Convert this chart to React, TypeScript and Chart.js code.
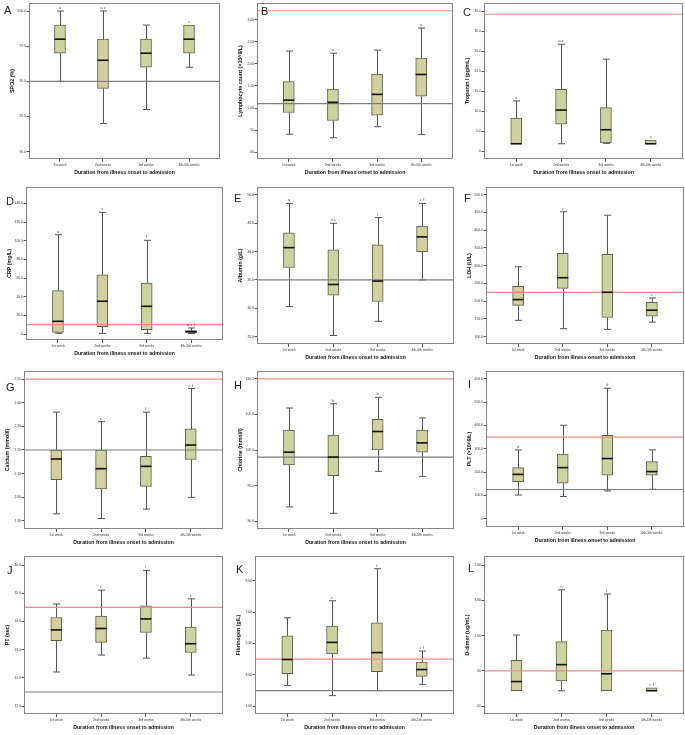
import React, { useEffect, useRef } from "react";
import { Chart, registerables } from "chart.js";

Chart.register(...registerables);

// ---- categories ----
const weeks = ["1st week", "2nd weeks", "3rd weeks", "4th-5th weeks"];

// ---- box statistics per category: [lower whisker, Q1, median, Q3, upper whisker] ----
const spo2 = [[95, 97, 98, 99, 100], [92, 94.5, 96.5, 98, 100], [93, 96, 97, 98, 99], [96, 97, 98, 99, 99]];
const lymphocyte = [[0.41, 0.9, 1.18, 1.6, 2.29], [0.33, 0.72, 1.13, 1.43, 2.24], [0.58, 0.84, 1.31, 1.77, 2.31], [0.4, 1.27, 1.76, 2.13, 2.81]];
const troponin = [[1.9, 1.9, 1.9, 8.3, 12.6], [1.9, 6.8, 10.3, 15.5, 26.7], [2.0, 2.1, 5.4, 10.9, 23.0], [1.9, 1.9, 1.9, 2.8, 2.8]];
const crp = [[0.7, 1.8, 13.6, 46.5, 106.4], [0.7, 7.9, 35.1, 63.4, 130.4], [0.7, 4.7, 29.7, 54.5, 100.4], [0.5, 1.1, 2.5, 3.6, 6.5]];
const albumin = [[30.3, 37.2, 40.7, 43.3, 48.5], [25.2, 32.3, 34.2, 40.3, 45.0], [27.7, 31.2, 34.8, 41.2, 46.0], [35.0, 40.0, 42.6, 44.5, 48.5]];
const ldh = [[146, 188, 204.5, 242, 297], [122.6, 236, 266, 335, 452], [120.6, 154, 225, 332, 442], [141, 158, 174.6, 197, 209]];
const calcium = [[1.93, 2.075, 2.162, 2.2, 2.36], [1.91, 2.035, 2.121, 2.2, 2.32], [1.95, 2.046, 2.131, 2.173, 2.36], [2.0, 2.16, 2.221, 2.289, 2.46]];
const chlorine = [[92.0, 97.9, 99.7, 102.8, 105.9], [91.1, 96.4, 99.0, 102.1, 106.5], [97.0, 100.0, 102.6, 104.3, 107.4], [96.3, 99.7, 101.0, 102.8, 104.5]];
const plt = [[101.6, 159, 190, 219, 295], [95, 152, 219, 277, 401], [119, 186.5, 258, 358, 560], [126, 186.5, 202, 245, 295]];
const pt = [[12.21, 13.32, 13.7, 14.14, 14.62], [12.81, 13.26, 13.75, 14.19, 15.11], [12.7, 13.61, 14.09, 14.55, 15.81], [12.1, 12.9, 13.21, 13.8, 14.8]];
const fibrinogen = [[2.32, 3.08, 3.98, 5.49, 6.64], [1.68, 4.33, 5.07, 6.11, 7.72], [2.0, 3.21, 4.42, 6.32, 9.76], [2.4, 2.91, 3.34, 3.82, 4.52]];
const dDimer = [[0.22, 0.22, 0.35, 0.65, 1.01], [0.22, 0.36, 0.59, 0.915, 1.65], [0.22, 0.22, 0.46, 1.08, 1.59], [0.22, 0.22, 0.22, 0.26, 0.26]];

// ---- y tick values ----
const spo2Ticks = [90, 92.5, 95, 97.5, 100];
const lymphocyteTicks = [0, 0.5, 1, 1.5, 2, 2.5, 3];
const troponinTicks = [0, 5, 10, 15, 20, 25, 30, 35];
const crpTicks = [0, 20, 40, 60, 80, 100, 120, 140];
const albuminTicks = [25, 30, 35, 40, 45, 50];
const ldhTicks = [100, 150, 200, 250, 300, 350, 400, 450, 500];
const calciumTicks = [1.9, 2.0, 2.1, 2.2, 2.3, 2.4, 2.5];
const chlorineTicks = [90, 95, 100, 105, 110];
const pltTicks = [0, 100, 200, 300, 400, 500, 600];
const ptTicks = [11, 12, 13, 14, 15, 16];
const fibrinogenTicks = [1, 3, 5, 7, 9];
const dDimerTicks = [0, 0.5, 1, 1.5, 2];

// ---- significance letters above each box ----
const spo2Notes = ["a", "a c", "", "c"];
const lymphocyteNotes = ["", "a", "", "a"];
const troponinNotes = ["a", "a c", "", "a"];
const crpNotes = ["a", "c", "f", "a c f"];
const albuminNotes = ["a", "a c", "f", "c f"];
const ldhNotes = ["", "c", "", "c"];
const calciumNotes = ["", "c", "f", "c f"];
const chlorineNotes = ["", "b", "b", ""];
const pltNotes = ["d", "", "d", ""];
const ptNotes = ["", "c", "f", "f"];
const fibrinogenNotes = ["", "c", "f", "c f"];
const dDimerNotes = ["", "c", "f", "c f"];

// ---- reference lines: [red (upper limit), grey (lower limit)] ----
const spo2Limits = [null, 95];
const lymphocyteLimits = [3.2, 1.1];
const troponinLimits = [34.2, null];
const crpLimits = [10, null];
const albuminLimits = [null, 35];
const ldhLimits = [225, null];
const calciumLimits = [2.5, 2.2];
const chlorineLimits = [110, 99];
const pltLimits = [350, 125];
const ptLimits = [14.5, 11.5];
const fibrinogenLimits = [4, 2];
const dDimerLimits = [0.5, null];

const FONT = 'Arial, "Liberation Sans", Helvetica, sans-serif';
const BOX_FILL = "#d2d09e";
const BOX_EDGE = "#5e5e4a";

const fmt = (v: number, d: number) => {
  const s = Number(v).toFixed(d);
  if (s.startsWith("0.")) return s.slice(1);
  return s;
};

const panels = [
  { letter: "A", title: "SPO2 (%)", stats: spo2, ticks: spo2Ticks, dec: 1, min: 89.48, max: 100.57, notes: spo2Notes, lim: spo2Limits, L: 29, R: 220, T: 3, B: 159, lx: 4, ly: 6 },
  { letter: "B", title: "Lymphocyte count (×10^9/L)", stats: lymphocyte, ticks: lymphocyteTicks, dec: 2, min: -0.15, max: 3.375, notes: lymphocyteNotes, lim: lymphocyteLimits, L: 257, R: 453, T: 3, B: 159, lx: 261, ly: 7 },
  { letter: "C", title: "Troponin I (pg/mL)", stats: troponin, ticks: troponinTicks, dec: 1, min: -1.9, max: 37, notes: troponinNotes, lim: troponinLimits, L: 484, R: 683, T: 3, B: 159, lx: 463, ly: 8 },
  { letter: "D", title: "CRP (mg/L)", stats: crp, ticks: crpTicks, dec: 1, min: -6.4, max: 157.5, notes: crpNotes, lim: crpLimits, L: 26, R: 223, T: 187, B: 340, lx: 6, ly: 197 },
  { letter: "E", title: "Albumin (g/L)", stats: albumin, ticks: albuminTicks, dec: 1, min: 23.7, max: 51.4, notes: albuminNotes, lim: albuminLimits, L: 257, R: 454, T: 187, B: 344, lx: 234, ly: 194 },
  { letter: "F", title: "LDH (U/L)", stats: ldh, ticks: ldhTicks, dec: 1, min: 79.4, max: 521.5, notes: ldhNotes, lim: ldhLimits, L: 486, R: 684, T: 187, B: 344, lx: 464, ly: 194 },
  { letter: "G", title: "Calcium (mmol/l)", stats: calcium, ticks: calciumTicks, dec: 2, min: 1.866, max: 2.534, notes: calciumNotes, lim: calciumLimits, L: 24, R: 223, T: 371, B: 529, lx: 6, ly: 383 },
  { letter: "H", title: "Chlorine (mmol/l)", stats: chlorine, ticks: chlorineTicks, dec: 1, min: 88.9, max: 111.1, notes: chlorineNotes, lim: chlorineLimits, L: 257, R: 454, T: 371, B: 529, lx: 234, ly: 381 },
  { letter: "I", title: "PLT (×10^9/L)", stats: plt, ticks: pltTicks, dec: 1, min: -36, max: 634, notes: pltNotes, lim: pltLimits, L: 486, R: 684, T: 371, B: 527, lx: 468, ly: 380 },
  { letter: "J", title: "PT (sec)", stats: pt, ticks: ptTicks, dec: 1, min: 10.72, max: 16.32, notes: ptNotes, lim: ptLimits, L: 24, R: 223, T: 556, B: 714, lx: 7, ly: 566 },
  { letter: "K", title: "Fibrinogen (g/L)", stats: fibrinogen, ticks: fibrinogenTicks, dec: 2, min: 0.51, max: 10.57, notes: fibrinogenNotes, lim: fibrinogenLimits, L: 255, R: 454, T: 556, B: 714, lx: 236, ly: 565 },
  { letter: "L", title: "D-dimer (ug/mL)", stats: dDimer, ticks: dDimerTicks, dec: 2, min: -0.11, max: 2.13, notes: dDimerNotes, lim: dDimerLimits, L: 484, R: 684, T: 556, B: 714, lx: 468, ly: 564 },
];

function extras(p: any) {
  return {
    id: "boxExtras" + p.letter,
    afterDatasetsDraw(chart: any) {
      const { ctx, chartArea: a, scales } = chart;
      const x = scales.x;
      const y = scales.y;
      const meta = chart.getDatasetMeta(0);
      ctx.save();
      ctx.beginPath();
      ctx.rect(a.left, a.top, a.right - a.left, a.bottom - a.top);
      ctx.clip();
      // whiskers
      ctx.strokeStyle = "#555";
      ctx.lineWidth = 1;
      p.stats.forEach((s: number[], i: number) => {
        const xc = Math.round(x.getPixelForValue(i)) + 0.5;
        const [lo, q1, , q3, hi] = s;
        const cap = 3.5;
        if (hi > q3) {
          const yh = y.getPixelForValue(hi);
          ctx.beginPath();
          ctx.moveTo(xc, y.getPixelForValue(q3));
          ctx.lineTo(xc, yh);
          ctx.moveTo(xc - cap, yh);
          ctx.lineTo(xc + cap, yh);
          ctx.stroke();
        }
        if (lo < q1) {
          const yl = y.getPixelForValue(lo);
          ctx.beginPath();
          ctx.moveTo(xc, y.getPixelForValue(q1));
          ctx.lineTo(xc, yl);
          ctx.moveTo(xc - cap, yl);
          ctx.lineTo(xc + cap, yl);
          ctx.stroke();
        }
      });
      // reference lines
      const [red, grey] = p.lim;
      if (red !== null) {
        ctx.strokeStyle = "#f08a8a";
        ctx.lineWidth = 1.2;
        const yy = y.getPixelForValue(red);
        ctx.beginPath();
        ctx.moveTo(a.left, yy);
        ctx.lineTo(a.right, yy);
        ctx.stroke();
      }
      if (grey !== null) {
        ctx.strokeStyle = "#7d7d7d";
        ctx.lineWidth = 1.2;
        const yy = y.getPixelForValue(grey);
        ctx.beginPath();
        ctx.moveTo(a.left, yy);
        ctx.lineTo(a.right, yy);
        ctx.stroke();
      }
      // medians
      ctx.strokeStyle = "#111";
      ctx.lineWidth = 1.6;
      p.stats.forEach((s: number[], i: number) => {
        const bar = meta.data[i];
        const xc = x.getPixelForValue(i);
        const half = bar.width / 2;
        const ym = y.getPixelForValue(s[2]);
        ctx.beginPath();
        ctx.moveTo(xc - half, ym);
        ctx.lineTo(xc + half, ym);
        ctx.stroke();
      });
      // letters
      ctx.fillStyle = "#555";
      ctx.font = `4.3px ${FONT}`;
      ctx.textAlign = "center";
      ctx.textBaseline = "alphabetic";
      p.stats.forEach((s: number[], i: number) => {
        const note = p.notes[i];
        if (!note) return;
        const top = Math.max(s[3], s[4]);
        ctx.fillText(note, x.getPixelForValue(i), y.getPixelForValue(top) - 2);
      });
      ctx.restore();
      // frame
      ctx.save();
      ctx.strokeStyle = "#858585";
      ctx.lineWidth = 1;
      ctx.strokeRect(Math.round(a.left) + 0.5, Math.round(a.top) + 0.5, Math.round(a.right - a.left) - 1, Math.round(a.bottom - a.top) - 1);
      ctx.restore();
    },
  };
}

function BoxPanel({ p }: { p: any }) {
  const ref = useRef<HTMLCanvasElement | null>(null);
  const w = p.R - p.L + 30;
  const h = p.B - p.T + 25;
  useEffect(() => {
    if (!ref.current) return;
    const chart = new Chart(ref.current, {
      type: "bar",
      data: {
        datasets: [
          {
            data: p.stats.map((s: number[], i: number) => ({ x: i, y: [s[1], s[3]] })),
            backgroundColor: BOX_FILL,
            borderColor: BOX_EDGE,
            borderWidth: 1,
            borderSkipped: false,
            barThickness: 11,
          } as any,
        ],
      },
      options: {
        animation: false,
        responsive: false,
        maintainAspectRatio: false,
        devicePixelRatio: 1,
        layout: { padding: { left: 0, top: 3, right: 1, bottom: 0 } },
        plugins: { legend: { display: false }, tooltip: { enabled: false } },
        scales: {
          x: {
            type: "linear",
            offset: false,
            min: -0.72,
            max: 3.72,
            afterBuildTicks: (s: any) => {
              s.ticks = weeks.map((_, i) => ({ value: i }));
            },
            afterFit: (s: any) => {
              s.height = 22;
            },
            ticks: {
              callback: (v: any) => weeks[v],
              font: { family: FONT, size: 3.4 },
              color: "#333",
              padding: 1,
              autoSkip: false,
              maxRotation: 0,
            },
            grid: { offset: false, drawOnChartArea: false, drawTicks: true, tickLength: 3, color: "#555" },
            border: { display: false },
            title: {
              display: true,
              text: "Duration from illness onset to admission",
              font: { family: FONT, size: 5.2, weight: "bold" },
              color: "#111",
              padding: { top: 0, bottom: 5.4 },
            },
          },
          y: {
            type: "linear",
            min: p.min,
            max: p.max,
            afterBuildTicks: (s: any) => {
              s.ticks = p.ticks.map((v: number) => ({ value: v }));
            },
            afterFit: (s: any) => {
              s.width = 29;
            },
            ticks: {
              callback: (v: any) => fmt(v, p.dec),
              font: { family: FONT, size: 3.4 },
              color: "#333",
              padding: 0.5,
            },
            grid: { drawOnChartArea: false, drawTicks: true, tickLength: 2.5, color: "#555" },
            border: { display: false },
            title: {
              display: true,
              text: p.title,
              font: { family: FONT, size: 5.3, weight: "bold" },
              color: "#111",
              padding: { top: 9.1, bottom: 0 },
            },
          },
        },
      } as any,
      plugins: [extras(p)],
    });
    return () => chart.destroy();
  }, []);
  return (
    <canvas
      ref={ref}
      width={w}
      height={h}
      style={{ position: "absolute", left: p.L - 29, top: p.T - 3, width: w, height: h }}
    />
  );
}

export default function App() {
  return (
    <div
      style={{
        position: "absolute",
        left: 0,
        top: 0,
        width: 685,
        height: 735,
        overflow: "hidden",
        background: "#fff",
      }}
    >
      {panels.map((p) => (
        <BoxPanel key={p.letter} p={p} />
      ))}
      {panels.map((p) => (
        <div
          key={"lbl" + p.letter}
          style={{
            position: "absolute",
            left: p.lx,
            top: p.ly - 1.5,
            fontFamily: FONT,
            fontSize: 11,
            lineHeight: "11px",
            color: "#222",
          }}
        >
          {p.letter}
        </div>
      ))}
    </div>
  );
}
